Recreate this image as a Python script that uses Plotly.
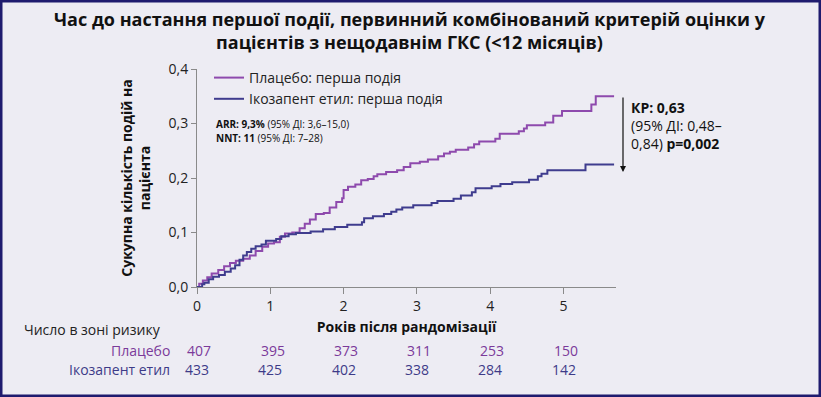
import plotly.graph_objects as go

# ---------------- data ----------------
placebo_t = [0, 0.03, 0.08, 0.14, 0.2, 0.29, 0.37, 0.45, 0.53, 0.63, 0.72, 0.80, 0.89, 0.97,
             1.05, 1.13, 1.2, 1.3, 1.4, 1.47, 1.54, 1.62, 1.73, 1.81, 1.9, 1.98, 2.0, 2.06,
             2.16, 2.24, 2.33, 2.41, 2.46, 2.58, 2.73, 2.82, 2.91, 3.04, 3.15, 3.29, 3.37,
             3.45, 3.53, 3.7, 3.78, 3.85, 4.07, 4.13, 4.39, 4.46, 4.5, 4.75, 4.86, 4.98,
             5.38, 5.44, 5.69]
placebo_v = [0, 0.006, 0.012, 0.018, 0.025, 0.031, 0.038, 0.044, 0.048, 0.052, 0.058, 0.066,
             0.074, 0.080, 0.082, 0.092, 0.098, 0.100, 0.108, 0.116, 0.124, 0.134, 0.136,
             0.146, 0.156, 0.163, 0.178, 0.184, 0.188, 0.196, 0.198, 0.203, 0.207, 0.211,
             0.214, 0.220, 0.227, 0.230, 0.234, 0.240, 0.245, 0.248, 0.252, 0.256, 0.262,
             0.267, 0.272, 0.281, 0.286, 0.291, 0.297, 0.302, 0.314, 0.323, 0.335, 0.350,
             0.350]

ico_t = [0, 0.07, 0.1, 0.16, 0.22, 0.3, 0.38, 0.46, 0.52, 0.58, 0.63, 0.68, 0.74, 0.8, 0.88,
         0.94, 1.08, 1.15, 1.25, 1.35, 1.55, 1.72, 1.88, 2.05, 2.25, 2.28, 2.4, 2.55, 2.65,
         2.72, 2.8, 2.95, 3.2, 3.28, 3.5, 3.6, 3.75, 3.8, 4.02, 4.14, 4.3, 4.53, 4.65, 4.7,
         4.78, 5.3, 5.69]
ico_v = [0, 0.005, 0.008, 0.014, 0.019, 0.022, 0.028, 0.034, 0.040, 0.050, 0.058, 0.064,
         0.070, 0.075, 0.078, 0.085, 0.088, 0.093, 0.097, 0.099, 0.102, 0.106, 0.110, 0.114,
         0.119, 0.126, 0.130, 0.134, 0.138, 0.142, 0.146, 0.150, 0.154, 0.158, 0.162, 0.168,
         0.174, 0.181, 0.185, 0.189, 0.192, 0.197, 0.203, 0.208, 0.214, 0.225, 0.225]

risk_years = [0, 1, 2, 3, 4, 5]
risk_placebo = [407, 395, 373, 311, 253, 150]
risk_ico = [433, 425, 402, 338, 284, 142]

y_ticks = [0, 0.1, 0.2, 0.3, 0.4]
x_ticks = [0, 1, 2, 3, 4, 5]

PURPLE = "#8e4aad"
NAVY = "#3f3c8e"
BG = "#edecf3"
BORDER = "#1f1b6e"
FONT = "Open Sans"

fig = go.Figure()
fig.add_trace(go.Scatter(x=placebo_t, y=placebo_v, mode="lines", line_shape="hv",
                         line=dict(color=PURPLE, width=2), name="Плацебо: перша подія"))
fig.add_trace(go.Scatter(x=ico_t, y=ico_v, mode="lines", line_shape="hv",
                         line=dict(color=NAVY, width=2), name="Ікозапент етил: перша подія"))

W, H = 821, 397
L, R, T, B = 197, 616, 69, 287
pw, ph = R - L, B - T


def px2paper_x(px):
    return (px - L) / pw


def px2paper_y(py):
    return (B - py) / ph


annotations = []
# title
annotations.append(dict(text="<b>Час до настання першої події, первинний комбінований критерій оцінки у<br>пацієнтів з нещодавнім ГКС (&lt;12 місяців)</b>",
                        xref="paper", yref="paper", x=px2paper_x(410), y=px2paper_y(31),
                        xanchor="center", yanchor="middle", showarrow=False,
                        font=dict(size=18, color="#111111", family=FONT)))
# ARR / NNT
annotations.append(dict(text="<b>ARR: 9,3%</b> (95% ДІ: 3,6–15,0)", xref="paper", yref="paper",
                        x=px2paper_x(214), y=px2paper_y(124), xanchor="left", yanchor="middle",
                        showarrow=False, font=dict(size=10, color="#111111", family=FONT)))
annotations.append(dict(text="<b>NNT: 11</b> (95% ДІ: 7–28)", xref="paper", yref="paper",
                        x=px2paper_x(214), y=px2paper_y(138), xanchor="left", yanchor="middle",
                        showarrow=False, font=dict(size=10, color="#111111", family=FONT)))
# HR text
annotations.append(dict(text="<b>КР: 0,63</b><br>(95% ДІ: 0,48–<br>0,84) <b>p=0,002</b>",
                        xref="paper", yref="paper", x=px2paper_x(629), y=px2paper_y(96),
                        xanchor="left", yanchor="top", align="left", showarrow=False,
                        font=dict(size=14, color="#111111", family=FONT)))
# arrow
annotations.append(dict(text="", xref="paper", yref="paper", x=px2paper_x(623), y=px2paper_y(172),
                        axref="pixel", ayref="pixel", ax=0, ay=-76,
                        showarrow=True, arrowhead=2, arrowsize=1, arrowwidth=1.2, arrowcolor="#111111"))
# risk table
annotations.append(dict(text="Число в зоні ризику", xref="paper", yref="paper",
                        x=px2paper_x(22), y=px2paper_y(329), xanchor="left", yanchor="middle",
                        showarrow=False, font=dict(size=14, color="#222222", family=FONT)))
annotations.append(dict(text="Плацебо", xref="paper", yref="paper",
                        x=px2paper_x(172), y=px2paper_y(350), xanchor="right", yanchor="middle",
                        showarrow=False, font=dict(size=14, color="#7b3a9a", family=FONT)))
annotations.append(dict(text="Ікозапент етил", xref="paper", yref="paper",
                        x=px2paper_x(172), y=px2paper_y(369), xanchor="right", yanchor="middle",
                        showarrow=False, font=dict(size=14, color="#3d3b88", family=FONT)))
for yr, a, b in zip(risk_years, risk_placebo, risk_ico):
    annotations.append(dict(text=str(a), xref="x", yref="paper", x=yr + 0.03, y=px2paper_y(350),
                            xanchor="center", yanchor="middle", showarrow=False,
                            font=dict(size=14, color="#7b3a9a", family=FONT)))
    annotations.append(dict(text=str(b), xref="x", yref="paper", x=yr, y=px2paper_y(369),
                            xanchor="center", yanchor="middle", showarrow=False,
                            font=dict(size=14, color="#3d3b88", family=FONT)))

shapes = [dict(type="rect", xref="paper", yref="paper",
               x0=px2paper_x(0), x1=px2paper_x(W), y0=px2paper_y(H), y1=px2paper_y(0),
               line=dict(color=BORDER, width=5), fillcolor="rgba(0,0,0,0)", layer="below")]

fig.update_layout(
    width=W, height=H,
    margin=dict(l=L, r=W - R, t=T, b=H - B, pad=0),
    paper_bgcolor=BG, plot_bgcolor=BG,
    font=dict(family=FONT, size=14, color="#222222"),
    separators=",.",
    showlegend=True,
    legend=dict(x=px2paper_x(209), y=px2paper_y(62), xanchor="left", yanchor="top",
                bgcolor="rgba(0,0,0,0)", font=dict(size=14, color="#222222"),
                tracegroupgap=0, itemwidth=30),
    annotations=annotations,
    shapes=shapes,
    xaxis=dict(range=[0, (R - L) / 73.3], tickvals=x_ticks, showgrid=False, zeroline=False,
               showline=True, linecolor="#8a8a8a", linewidth=1, ticks="outside", ticklen=6,
               tickcolor="#8a8a8a", tickfont=dict(size=14, color="#222222"),
               title=dict(text="<b>Років після рандомізації</b>", font=dict(size=14, color="#111111"),
                          standoff=8)),
    yaxis=dict(range=[0, 0.4], tickvals=y_ticks, tickformat=".1f", showgrid=False, zeroline=False,
               showline=True, linecolor="#8a8a8a", linewidth=1, ticks="outside", ticklen=5,
               tickcolor="#8a8a8a", tickfont=dict(size=14, color="#222222"),
               title=dict(text="<b>Сукупна кількість подій на<br>пацієнта</b>",
                          font=dict(size=14, color="#111111"), standoff=14)),
)

fig.write_html("out.html", config={"displayModeBar": False},
               post_script="document.body.style.margin='0px';document.body.style.overflow='hidden';")
